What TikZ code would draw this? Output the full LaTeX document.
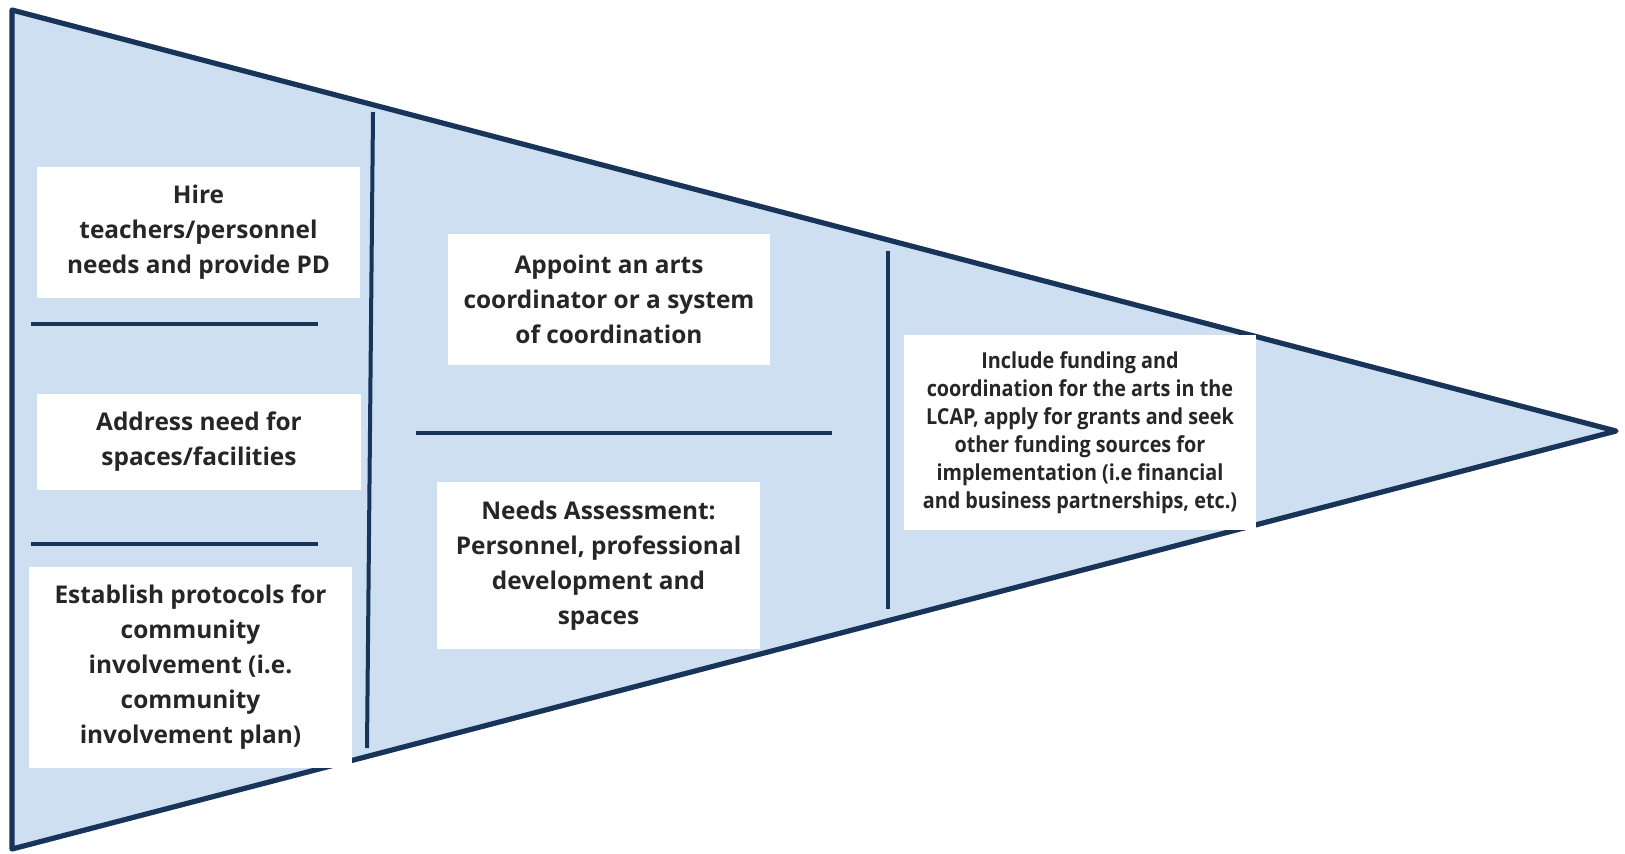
\documentclass[tikz,border=0pt]{standalone}
\usepackage{fontspec}
\setmainfont{Open Sans}
\newfontfamily\narrowfont{Open Sans}[FakeStretch=0.90]
\usetikzlibrary{positioning}
\definecolor{pennantfill}{RGB}{205,223,241}
\definecolor{pennantline}{RGB}{24,52,88}
\definecolor{notetext}{RGB}{38,38,38}

\begin{document}
\begin{tikzpicture}[x=0.5pt, y=-0.5pt,
    stepnote/.style={fill=white, align=center, text=notetext, inner sep=0pt,
        font=\bfseries\fontsize{12.2}{17.5}\selectfont},
    fundnote/.style={stepnote, font=\narrowfont\bfseries\fontsize{11}{14}\selectfont},
    divider/.style={pennantline, line width=2pt}]
    \useasboundingbox (0,0) rectangle (1625,853);
    % Pennant
    \coordinate (topleft) at (12,10);
    \coordinate (botleft) at (12,849);
    \coordinate (apex) at (1616,431);
    \draw[pennantline, fill=pennantfill, line width=2.6pt, line join=round]
        (topleft) -- (apex) -- (botleft) -- cycle;
    % Column dividers
    \draw[divider] (373,112) -- (367,748);
    \draw[divider] (888,251) -- (888,609);
    % Row dividers
    \foreach \y in {324, 544} {
        \draw[divider] (31,\y) -- (318,\y);
    }
    \draw[divider] (416,433) -- (832,433);
    % Left column
    \node[stepnote, minimum width=161.5pt, minimum height=65.5pt] (hire) at (198.5,232.5)
        {Hire\\teachers/personnel\\needs and provide PD};
    \node[stepnote, minimum width=162pt, minimum height=48pt] (spaces) at (199,442)
        {Address need for\\spaces/facilities};
    \node[stepnote, minimum width=161.5pt, minimum height=100.5pt] (protocols) at (190.5,667.5)
        {Establish protocols for\\community\\involvement (i.e.\\community\\involvement plan)};
    % Middle column
    \node[stepnote, minimum width=161pt, minimum height=65.5pt] (coordinator) at (609,299.5)
        {Appoint an arts\\coordinator or a system\\of coordination};
    \node[stepnote, minimum width=161.5pt, minimum height=83.5pt] (assessment) at (598.5,565.5)
        {Needs Assessment:\\Personnel, professional\\development and\\spaces};
    % Right column
    \node[fundnote, minimum width=176pt, minimum height=97.5pt] (funding) at (1080,432.5)
        {Include funding and\\coordination for the arts in the\\LCAP, apply for grants and seek\\other funding sources for\\implementation (i.e financial\\and business partnerships, etc.)};
\end{tikzpicture}
\end{document}
